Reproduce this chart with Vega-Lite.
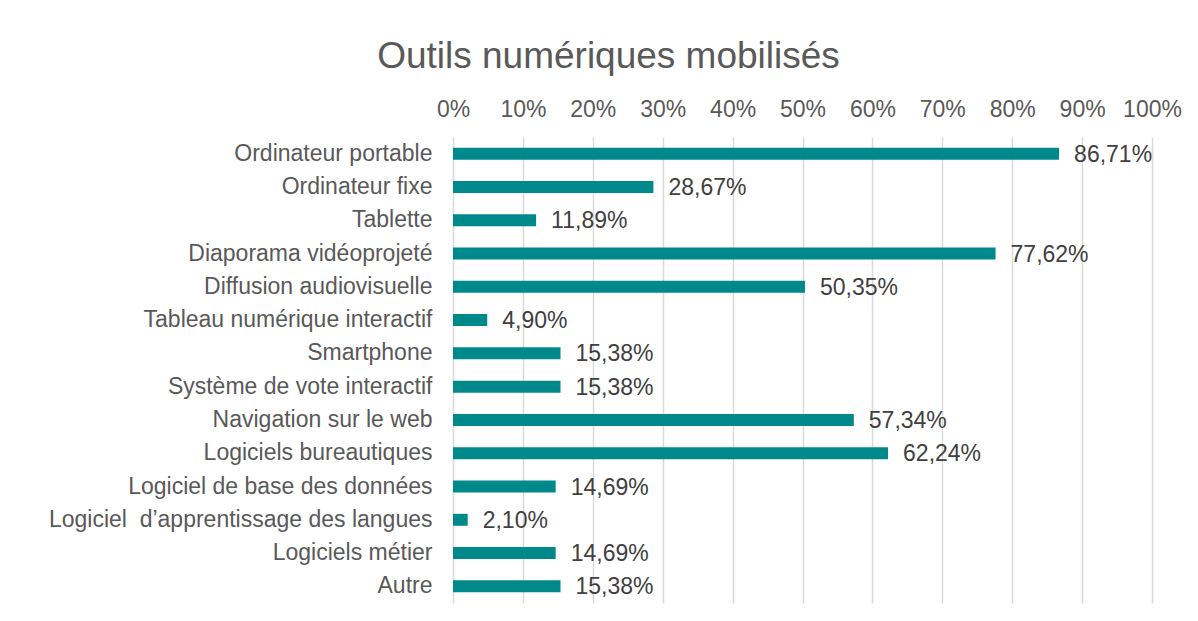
{
  "$schema": "https://vega.github.io/schema/vega-lite/v6.json",
  "autosize": "none",
  "width": 699,
  "height": 466,
  "padding": {"left": 453, "top": 137, "right": 46, "bottom": 18},
  "background": "white",
  "config": {
    "locale": {"number": {"decimal": ",", "thousands": " ", "grouping": [3], "currency": ["", " €"]}},
    "view": {"stroke": null},
    "font": "Liberation Sans"
  },
  "title": {
    "text": "Outils numériques mobilisés",
    "anchor": "middle",
    "frame": "group",
    "dx": -194,
    "fontSize": 37,
    "fontWeight": "normal",
    "color": "#595959",
    "font": "Liberation Sans",
    "offset": 22
  },
  "data": {
    "values": [
      {"outil": "Ordinateur portable", "part": 0.8671},
      {"outil": "Ordinateur fixe", "part": 0.2867},
      {"outil": "Tablette\u00a0", "part": 0.1189},
      {"outil": "Diaporama vidéoprojeté", "part": 0.7762},
      {"outil": "Diffusion audiovisuelle\u00a0", "part": 0.5035},
      {"outil": "Tableau numérique interactif\u00a0", "part": 0.049},
      {"outil": "Smartphone", "part": 0.1538},
      {"outil": "Système de vote interactif\u00a0", "part": 0.1538},
      {"outil": "Navigation sur le web\u00a0", "part": 0.5734},
      {"outil": "Logiciels bureautiques", "part": 0.6224},
      {"outil": "Logiciel de base des données\u00a0", "part": 0.1469},
      {"outil": "Logiciel\u00a0 d’apprentissage des langues\u00a0", "part": 0.021},
      {"outil": "Logiciels métier", "part": 0.1469},
      {"outil": "Autre", "part": 0.1538}
    ]
  },
  "encoding": {
    "y": {
      "field": "outil",
      "type": "nominal",
      "sort": null,
      "title": null,
      "scale": {"paddingInner": 0.64, "paddingOuter": 0.32},
      "axis": {
        "domain": false,
        "ticks": false,
        "grid": false,
        "labelFontSize": 23,
        "labelColor": "#595959",
        "labelPadding": 21,
        "labelLimit": 500,
        "labelFont": "Liberation Sans"
      }
    },
    "x": {
      "field": "part",
      "type": "quantitative",
      "title": null,
      "scale": {"domain": [0, 1], "nice": false},
      "axis": {
        "orient": "top",
        "format": ".0%",
        "values": [0, 0.1, 0.2, 0.3, 0.4, 0.5, 0.6, 0.7, 0.8, 0.9, 1],
        "domain": false,
        "ticks": false,
        "grid": true,
        "gridColor": "#d9d9d9",
        "gridWidth": 1.5,
        "labelFontSize": 23,
        "labelColor": "#595959",
        "labelBaseline": "alphabetic",
        "labelPadding": 21,
        "labelFlush": false,
        "labelFont": "Liberation Sans"
      }
    }
  },
  "layer": [
    {"mark": {"type": "bar", "color": "#00898A"}},
    {
      "mark": {"type": "text", "align": "left", "baseline": "middle", "dx": 15, "dy": 1, "fontSize": 23, "color": "#404040", "font": "Liberation Sans"},
      "encoding": {"text": {"field": "part", "type": "quantitative", "format": ".2%"}}
    }
  ]
}
